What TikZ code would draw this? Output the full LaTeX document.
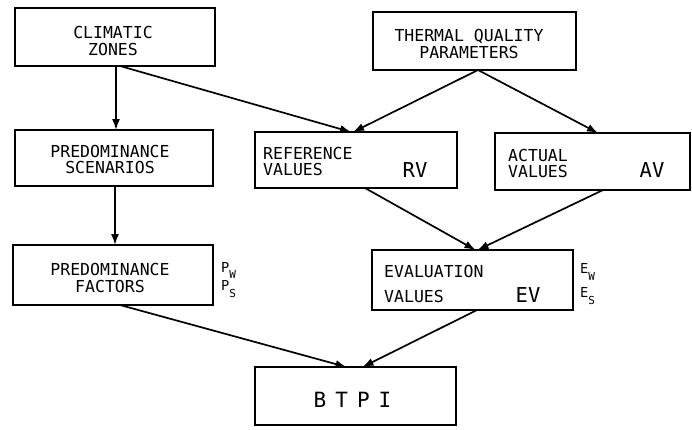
\documentclass[tikz,border=0pt]{standalone}
\usepackage{fontspec}
\setmonofont{DejaVu Sans Mono}
\usetikzlibrary{arrows.meta}
\begin{document}
\begin{tikzpicture}[x=1pt,y=-1pt]
\tikzset{
  boxnode/.style={draw=black, line width=2.4pt, inner sep=0pt, outer sep=0pt},
  txt/.style={font=\ttfamily\fontsize{16.5}{16.5}\selectfont, inner sep=0pt, align=center},
  txtl/.style={font=\ttfamily\fontsize{16.5}{16}\selectfont, inner sep=0pt, align=left, anchor=west},
  bigtxt/.style={font=\ttfamily\fontsize{20.5}{20}\selectfont, inner sep=0pt, anchor=base},
  subtxt/.style={font=\ttfamily\fontsize{13.7}{14}\selectfont, inner sep=0pt, anchor=base west},
  arr/.style={line width=1.7pt, -{Latex[length=11pt,width=8pt]}}
}
\useasboundingbox[fill=white] (0,0) rectangle (692,429);

% boxes
\node[boxnode, minimum width=200pt, minimum height=58pt] (cz) at (115,37) {};
\node[boxnode, minimum width=203pt, minimum height=58pt] (tq) at (474.5,41) {};
\node[boxnode, minimum width=198pt, minimum height=56pt] (ps) at (114,158) {};
\node[boxnode, minimum width=202pt, minimum height=56pt] (rv) at (356,160) {};
\node[boxnode, minimum width=195pt, minimum height=57pt] (av) at (592.5,161.5) {};
\node[boxnode, minimum width=200pt, minimum height=60pt] (pf) at (113,275) {};
\node[boxnode, minimum width=201pt, minimum height=60pt] (ev) at (472.5,280) {};
\node[boxnode, minimum width=201pt, minimum height=58pt] (bt) at (355.5,396) {};

% texts
\node[txt] (czt) at (113,41) {CLIMATIC\\ZONES};
\node[txt] (tqt) at (469,44) {THERMAL QUALITY\\PARAMETERS};
\node[txt] (pst) at (110,159.5) {PREDOMINANCE\\SCENARIOS};
\node[txtl] (rvt) at (263,161) {REFERENCE\\VALUES};
\node[bigtxt] (rvl) at (415,177) {RV};
\node[txtl] (avt) at (508,163) {ACTUAL\\VALUES};
\node[bigtxt] (avl) at (652,177) {AV};
\node[txt] (pft) at (110,278) {PREDOMINANCE\\FACTORS};
\node[txtl, font=\ttfamily\fontsize{16.5}{25}\selectfont] (evt) at (384,283.5) {EVALUATION\\VALUES};
\node[bigtxt] (evl) at (528,302) {EV};
\node[bigtxt, font=\ttfamily\fontsize{21}{21}\selectfont] (btt) at (352.5,407) {B\kern9pt T\kern9pt P\kern9pt I};

\node[subtxt] (pw) at (221,272) {P\lower6pt\hbox{\fontsize{11}{11}\selectfont W}};
\node[subtxt] (pss) at (221,290) {P\lower7pt\hbox{\fontsize{11}{11}\selectfont S}};
\node[subtxt] (ew) at (580,273) {E\lower7pt\hbox{\fontsize{11}{11}\selectfont W}};
\node[subtxt] (es) at (580,297) {E\lower7pt\hbox{\fontsize{11}{11}\selectfont S}};

% connectors
\draw[arr] ([xshift=1pt]cz.south) -- ([xshift=1pt]cz.south |- ps.north);
\draw[arr] ([xshift=5pt]cz.south) -- ([xshift=-5pt]rv.north);
\draw[arr] ([xshift=3.5pt]tq.south) -- ([xshift=-3pt]rv.north);
\draw[arr] ([xshift=3.5pt]tq.south) -- ([xshift=5.5pt]av.north);
\draw[arr] ([xshift=1pt]ps.south) -- ([xshift=1pt]ps.south |- pf.north);
\draw[arr] ([xshift=9pt]rv.south) -- ([xshift=3pt]ev.north);
\draw[arr] ([xshift=10.5pt]av.south) -- ([xshift=5pt]ev.north);
\draw[arr] ([xshift=7pt]pf.south) -- ([xshift=-9pt]bt.north);
\draw[arr] ([xshift=4.5pt]ev.south) -- ([xshift=7pt]bt.north);
\end{tikzpicture}
\end{document}
